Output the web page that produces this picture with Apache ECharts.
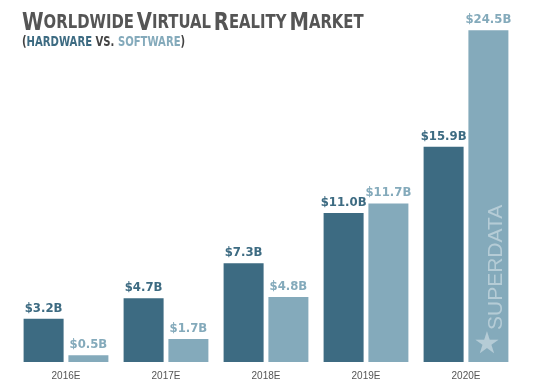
<!DOCTYPE html>
<html><head><meta charset="utf-8">
<script src="https://cdn.jsdelivr.net/npm/echarts@6/dist/echarts.min.js"></script>
<style>html,body{margin:0;padding:0;background:#fff}#c{width:533px;height:389px}</style>
</head><body><div id="c"></div>
<script>
const categories = ['2016E','2017E','2018E','2019E','2020E'];
const hardware = [3.2, 4.7, 7.3, 11.0, 15.9];
const software = [0.5, 1.7, 4.8, 11.7, 24.5];
const HW = '#3d6b82', SW = '#84aabb';
const FONT = '"DejaVu Sans Condensed","Liberation Sans Narrow","Liberation Sans",sans-serif';
const lbl = c => ({show:true, position:'top', distance:4, color:c, fontFamily:FONT, fontWeight:'bold', fontSize:13,
  formatter: p => '$' + p.value.toFixed(1) + 'B'});
const chart = echarts.init(document.getElementById('c'));
chart.setOption({
  animation:false,
  grid:{left:16, right:17, top:10, bottom:27},
  xAxis:{type:'category', data:categories, axisLine:{show:false}, axisTick:{show:false},
    axisLabel:{color:'#555', fontSize:10, fontFamily:'"Liberation Sans",sans-serif', margin:9}},
  yAxis:{type:'value', min:0, max:26, show:false, splitLine:{show:false}},
  series:[
    {type:'bar', data:hardware, barWidth:40, barGap:'12%', itemStyle:{color:HW}, label:lbl(HW)},
    {type:'bar', data:software, barWidth:40, itemStyle:{color:SW}, label:lbl(SW)}
  ],
  graphic:[
    {type:'text', x:22, y:11, scaleX:0.87, z:100, style:{
      text:'{b|W}{s|ORLDWIDE} {b|V}{s|IRTUAL} {b|R}{s|EALITY} {b|M}{s|ARKET}',
      rich:{b:{fontFamily:FONT, fontWeight:'bold', fontSize:25, fill:'#555'},
            s:{fontFamily:FONT, fontWeight:'bold', fontSize:19, fill:'#555'}}}},
    {type:'text', x:22, y:35, scaleX:0.8, z:100, style:{
      text:'{g|(}{h|HARDWARE}{g| VS. }{w|SOFTWARE}{g|)}',
      rich:{g:{fontFamily:FONT, fontWeight:'bold', fontSize:14, fill:'#444'},
            h:{fontFamily:FONT, fontWeight:'bold', fontSize:14, fill:HW},
            w:{fontFamily:FONT, fontWeight:'bold', fontSize:14, fill:SW}}}},
    {type:'text', x:496, y:330, rotation:Math.PI/2, z:100, style:{
      text:'SUPERDATA', fill:'rgba(255,255,255,0.4)', fontFamily:'"Liberation Sans",sans-serif',
      fontSize:21, align:'left', verticalAlign:'middle'}},
    {type:'text', x:487, y:345, z:100, style:{text:'★', fill:'rgba(255,255,255,0.4)', fontSize:30,
      fontFamily:'"DejaVu Sans",sans-serif', align:'center', verticalAlign:'middle'}}
  ]
});
</script></body></html>
